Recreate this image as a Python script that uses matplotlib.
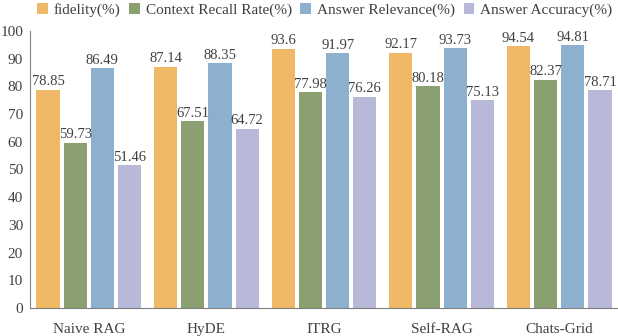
import numpy as np
import matplotlib.pyplot as plt

plt.rcParams['font.family'] = 'serif'
plt.rcParams['font.serif'] = ['Liberation Serif', 'DejaVu Serif']

metodos = ["Naive RAG", "HyDE", "ITRG", "Self-RAG", "Chats-Grid"]
fidelity = [78.85, 87.14, 93.6, 92.17, 94.54]
recall = [59.73, 67.51, 77.98, 80.18, 82.37]
relevance = [86.49, 88.35, 91.97, 93.73, 94.81]
accuracy = [51.46, 64.72, 76.26, 75.13, 78.71]

series = [
    ("fidelity(%)", fidelity, "#EFB866"),
    ("Context Recall Rate(%)", recall, "#8AA070"),
    ("Answer Relevance(%)", relevance, "#8EB0CF"),
    ("Answer Accuracy(%)", accuracy, "#B8B8D8"),
]

fig = plt.figure(figsize=(6.18, 3.36), dpi=100)
ax = fig.add_axes([30 / 618, 1 - 308 / 336, 1 - 30 / 618, 277 / 336])

x = np.arange(len(metodos))
paso = 0.231
ancho = 0.197
for i, (nombre, valores, color) in enumerate(series):
    pos = x + (i - 1.5) * paso
    barras = ax.bar(pos, valores, ancho, color=color, label=nombre)
    ax.bar_label(barras, labels=[f"{v:g}" for v in valores], padding=1,
                 fontsize=10.5, color="#404040")

ax.set_xlim(-0.5, 4.5)
ax.set_ylim(0, 100)
ax.set_yticks(range(0, 101, 10))
ax.set_xticks(x)
ax.set_xticklabels(metodos)
ax.tick_params(axis="both", length=0, labelsize=11, colors="#404040", pad=11)
ax.tick_params(axis="y", pad=5)
for lado in ["top", "right"]:
    ax.spines[lado].set_visible(False)
for lado in ["left", "bottom"]:
    ax.spines[lado].set_color("#808080")

ax.legend(loc="lower left", bbox_to_anchor=(0.012, 1.05), ncol=4, frameon=False,
          fontsize=11, handlelength=0.7, handleheight=0.7, handletextpad=0.4,
          columnspacing=0.55, labelcolor="#404040", borderaxespad=0, borderpad=0)

fig.savefig("out.png", dpi=100)
